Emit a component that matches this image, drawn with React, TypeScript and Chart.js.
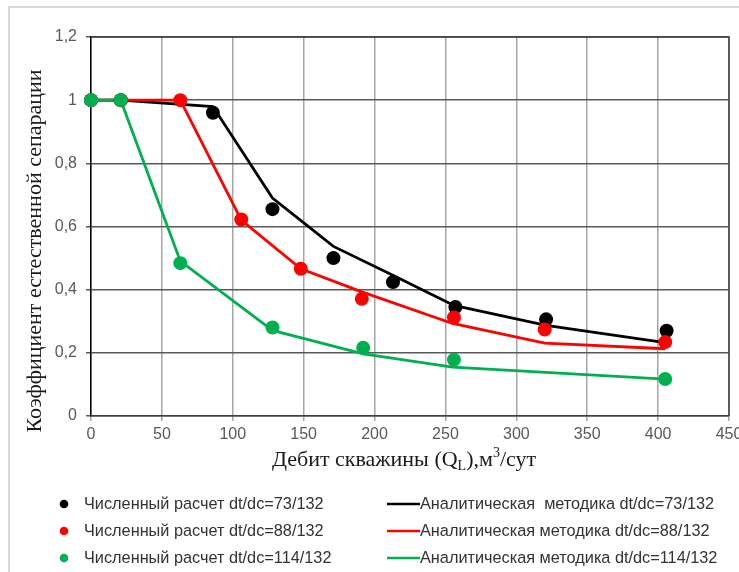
import React, { useEffect, useRef } from 'react';
import { Chart, registerables } from 'chart.js';

Chart.register(...registerables);

// ---- Data ----
const xTickStep = 50;
const xMin = 0;
const xMax = 450;
const yMin = 0;
const yMax = 1.2;
const yTickStep = 0.2;

// Численный расчет (points)
const numX73 = [0, 21, 86, 128, 171, 213, 257, 321, 406];
const numY73 = [1, 1, 0.96, 0.655, 0.5, 0.424, 0.345, 0.306, 0.27];
const numX88 = [0, 21, 63, 106, 148, 191, 256, 320, 405];
const numY88 = [1, 1, 1, 0.622, 0.466, 0.371, 0.312, 0.274, 0.234];
const numX114 = [0, 21, 63, 128, 192, 256, 405];
const numY114 = [1, 1, 0.484, 0.28, 0.216, 0.178, 0.117];

// Аналитическая методика (lines)
const anX73 = [0, 21, 86, 128, 171, 214, 256, 321, 405];
const anY73 = [1, 1, 0.98, 0.69, 0.537, 0.443, 0.35, 0.287, 0.232];
const anX88 = [0, 21, 63, 106, 148, 191, 255, 320, 405];
const anY88 = [1, 1, 1, 0.62, 0.466, 0.393, 0.293, 0.231, 0.213];
const anX114 = [0, 21, 63, 128, 192, 255, 405];
const anY114 = [1, 1, 0.49, 0.271, 0.197, 0.155, 0.117];

const seriesColors = ['#000000', '#ff0000', '#00b050'];
const legendNum = [
  'Численный расчет dt/dc=73/132',
  'Численный расчет dt/dc=88/132',
  'Численный расчет dt/dc=114/132',
];
const legendAn = [
  'Аналитическая  методика dt/dc=73/132',
  'Аналитическая методика dt/dc=88/132',
  'Аналитическая методика dt/dc=114/132',
];
const yTitle = 'Коэффициент естественной сепарации';
const xTitleParts = ['Дебит скважины (Q', 'L', '),м', '3', '/сут'];

const toPts = (xs: number[], ys: number[]) => xs.map((x, i) => ({ x, y: ys[i] }));

const SANS = "'Liberation Sans', Arial, sans-serif";
const SERIF = "'Liberation Serif', 'Times New Roman', serif";

const decorPlugin = {
  id: 'decor',
  beforeDraw(chart: any) {
    const ctx = chart.ctx;
    ctx.save();
    ctx.fillStyle = '#ffffff';
    ctx.fillRect(0, 0, chart.width, chart.height);
    ctx.strokeStyle = '#d9d9d9';
    ctx.lineWidth = 2;
    ctx.beginPath();
    ctx.moveTo(9, chart.height);
    ctx.lineTo(9, 7);
    ctx.lineTo(chart.width, 7);
    ctx.stroke();
    ctx.restore();
  },
  beforeDatasetsDraw(chart: any) {
    const { left, top, right, bottom } = chart.chartArea;
    const ctx = chart.ctx;
    ctx.save();
    ctx.strokeStyle = '#404040';
    ctx.lineWidth = 1.5;
    ctx.beginPath();
    ctx.moveTo(left, top);
    ctx.lineTo(right, top);
    ctx.lineTo(right, bottom);
    ctx.stroke();
    ctx.restore();
  },
  afterDraw(chart: any) {
    const ctx = chart.ctx;
    ctx.save();
    // Y title
    ctx.fillStyle = '#1a1a1a';
    ctx.font = `22px ${SERIF}`;
    ctx.textAlign = 'center';
    ctx.textBaseline = 'middle';
    ctx.translate(35, 251);
    ctx.rotate(-Math.PI / 2);
    ctx.fillText(yTitle, 0, 0);
    ctx.restore();

    // X title with subscript/superscript
    ctx.save();
    ctx.fillStyle = '#1a1a1a';
    ctx.textBaseline = 'alphabetic';
    ctx.textAlign = 'left';
    const big = `22px ${SERIF}`;
    const small = `14px ${SERIF}`;
    const fonts = [big, small, big, small, big];
    const dy = [0, 4, 0, -9, 0];
    let total = 0;
    const widths = xTitleParts.map((t, i) => {
      ctx.font = fonts[i];
      const w = ctx.measureText(t).width;
      total += w;
      return w;
    });
    let x = 404 - total / 2;
    const baseY = 466;
    xTitleParts.forEach((t, i) => {
      ctx.font = fonts[i];
      ctx.fillText(t, x, baseY + dy[i]);
      x += widths[i];
    });
    ctx.restore();

    // Legend
    ctx.save();
    const rowsY = [504, 531, 558];
    ctx.font = `16.3px ${SANS}`;
    ctx.textBaseline = 'middle';
    ctx.textAlign = 'left';
    rowsY.forEach((ry, i) => {
      ctx.fillStyle = seriesColors[i];
      ctx.beginPath();
      ctx.arc(64, ry, 4.3, 0, Math.PI * 2);
      ctx.fill();
      ctx.fillStyle = '#333333';
      ctx.fillText(legendNum[i], 84, ry + 1);

      ctx.strokeStyle = seriesColors[i];
      ctx.lineWidth = 2.5;
      ctx.beginPath();
      ctx.moveTo(387, ry);
      ctx.lineTo(420, ry);
      ctx.stroke();
      ctx.fillStyle = '#333333';
      ctx.fillText(legendAn[i], 420, ry + 1);
    });
    ctx.restore();
  },
};

export default function App() {
  const ref = useRef<HTMLCanvasElement | null>(null);

  useEffect(() => {
    if (!ref.current) return;
    const lineDs = (label: string, xs: number[], ys: number[], color: string, order: number) => ({
      type: 'scatter' as const,
      label,
      data: toPts(xs, ys),
      showLine: true,
      borderColor: color,
      backgroundColor: color,
      borderWidth: 2.8,
      pointRadius: 0,
      pointHoverRadius: 0,
      tension: 0,
      clip: false as any,
      order,
    });
    const dotDs = (label: string, xs: number[], ys: number[], color: string, order: number) => ({
      type: 'scatter' as const,
      label,
      data: toPts(xs, ys),
      showLine: false,
      borderColor: color,
      backgroundColor: color,
      borderWidth: 0,
      pointRadius: 7,
      pointHoverRadius: 7,
      clip: false as any,
      order,
    });

    const chart = new Chart(ref.current, {
      type: 'scatter',
      data: {
        datasets: [
          lineDs(legendAn[0], anX73, anY73, seriesColors[0], 6),
          lineDs(legendAn[1], anX88, anY88, seriesColors[1], 5),
          lineDs(legendAn[2], anX114, anY114, seriesColors[2], 4),
          dotDs(legendNum[0], numX73, numY73, seriesColors[0], 3),
          dotDs(legendNum[1], numX88, numY88, seriesColors[1], 2),
          dotDs(legendNum[2], numX114, numY114, seriesColors[2], 1),
        ] as any,
      },
      options: {
        responsive: false,
        animation: false,
        devicePixelRatio: 1,
        layout: { padding: { left: 0, top: 37, right: 10, bottom: 0 } },
        plugins: {
          legend: { display: false },
          tooltip: { enabled: false },
          title: { display: false },
        },
        scales: {
          x: {
            type: 'linear',
            min: xMin,
            max: xMax,
            ticks: {
              stepSize: xTickStep,
              color: '#595959',
              font: { family: SANS, size: 16 },
              padding: 4,
              maxRotation: 0,
              autoSkip: false,
            },
            grid: { color: '#a6a6a6', lineWidth: 1.5, tickLength: 5, drawTicks: true },
            border: { color: '#404040', width: 1.5 },
            afterFit: (s: any) => {
              s.height = 156;
              s.paddingRight = 0;
              s.paddingLeft = 0;
            },
          },
          y: {
            type: 'linear',
            min: yMin,
            max: yMax,
            ticks: {
              stepSize: yTickStep,
              color: '#595959',
              font: { family: SANS, size: 16 },
              padding: 9,
              callback: (v: any) => String(Math.round(Number(v) * 10) / 10).replace('.', ','),
            },
            grid: { color: '#595959', lineWidth: 1.5, tickLength: 5, drawTicks: true },
            border: { color: '#000000', width: 1.5 },
            afterFit: (s: any) => {
              s.width = 91;
            },
          },
        },
      } as any,
      plugins: [decorPlugin],
    });
    return () => chart.destroy();
  }, []);

  return (
    <div style={{ position: 'absolute', left: 0, top: 0, width: 739, height: 572, background: '#fff' }}>
      <canvas ref={ref} width={739} height={572} style={{ display: 'block' }} />
    </div>
  );
}
